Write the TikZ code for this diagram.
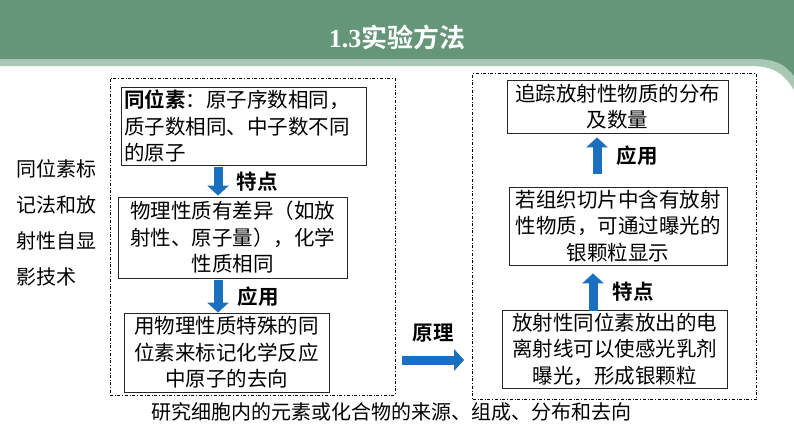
\documentclass[tikz,border=0pt]{standalone}
\usepackage{fontspec}
\setmainfont{Noto Sans CJK SC}[BoldFont=* Bold]
\newfontfamily\titlenum{Liberation Serif}
\definecolor{HeadGreen}{HTML}{66967A}
\definecolor{HeadLight}{HTML}{A9C7B5}
\definecolor{ArrowBlue}{HTML}{1A6FBF}
\usetikzlibrary{arrows.meta,calc}
\newcommand{\boxfont}{\fontsize{20.5}{26.5}\selectfont}

\begin{document}
\begin{tikzpicture}[x=1pt,y=-1pt,
      card/.style={draw=black!85,line width=0.8pt,fill=white,align=center,
                   inner xsep=3pt,inner ysep=2pt,font=\boxfont},
      frame/.style={draw=black,dash dot,line width=0.7pt,inner sep=0pt},
      flow/.style={draw=ArrowBlue,line width=9pt,-{Triangle[length=10pt,width=21pt]}},
      lab/.style={font=\boxfont\bfseries,inner sep=1pt}]
    % page and header
    \fill[white] (0,0) rectangle (794,447);
    \fill[HeadLight] (0,0) -- (794,0) -- (794,90) .. controls (783,72) and (772,66) .. (750,66) -- (0,66) -- cycle;
    \fill[HeadGreen] (0,0) -- (794,0) -- (794,76) .. controls (785,64) and (775,59) .. (755,59) -- (0,59) -- cycle;
    \node[text=white,font=\fontsize{26}{30}\selectfont\bfseries] (title) at (397,38)
      {{\titlenum\bfseries 1.3}实验方法};
    % frames
    \node[frame,minimum width=285pt,minimum height=317pt] (leftframe)  at (252.5,236.5) {};
    \node[frame,minimum width=284pt,minimum height=326pt] (rightframe) at (614.5,236.5) {};
    % left column
    \node[card,align=left,text width=239pt,minimum height=78pt] (iso) at (243.5,126)
      {\textbf{同位素}：原子序数相同，\\质子数相同、中子数不同\\的原子};
    \node[card,text width=223pt,minimum height=81pt] (prop) at (232.5,237.5)
      {物理性质有差异（如放\\射性、原子量），化学\\性质相同};
    \node[card,text width=199pt,minimum height=79pt] (mark) at (226.5,352.5)
      {用物理性质特殊的同\\位素来标记化学反应\\中原子的去向};
    % right column
    \node[card,text width=215pt,minimum height=53pt] (trace) at (617.5,106.5)
      {追踪放射性物质的分布\\及数量};
    \node[card,text width=212pt,minimum height=78pt] (slice) at (618,226)
      {若组织切片中含有放射\\性物质，可通过曝光的\\银颗粒显示};
    \node[card,text width=219pt,minimum height=78pt] (ray) at (614.5,349)
      {放射性同位素放出的电\\离射线可以使感光乳剂\\曝光，形成银颗粒};
    % side and bottom texts
    \node[align=left,anchor=west,inner sep=0pt,font=\fontsize{20}{36}\selectfont] (topic) at (16,222.5)
      {同位素标\\记法和放\\射性自显\\影技术};
    \node[font=\fontsize{20}{24}\selectfont,inner sep=0pt] (aim) at (391,412)
      {研究细胞内的元素或化合物的来源、组成、分布和去向};
    % arrows
    \draw[flow] ([xshift=-25.5pt,yshift=-2pt]iso.south) -- ([xshift=-14.5pt,yshift=1pt]prop.north)
      node[lab,midway,right=13pt] (feat1) {特点};
    \draw[flow] ([xshift=-14.5pt,yshift=-2pt]prop.south) -- ([xshift=-8.5pt]mark.north)
      node[lab,midway,right=14pt] (use1) {应用};
    \draw[flow] ([xshift=-21.5pt,yshift=-1pt]ray.north) -- ([xshift=-25pt,yshift=-8pt]slice.south)
      node[lab,midway,right=14pt] (feat2) {特点};
    \draw[flow] ([xshift=-21pt,yshift=13pt]slice.north) -- ([xshift=-20.5pt,yshift=-4pt]trace.south)
      node[lab,midway,right=14pt] (use2) {应用};
    \draw[flow] ([xshift=7pt,yshift=-123.5pt]leftframe.east) -- ([xshift=-8pt,yshift=-123.5pt]rightframe.west)
      node[lab,midway,above=12pt] (basis) {原理};
\end{tikzpicture}
\end{document}
